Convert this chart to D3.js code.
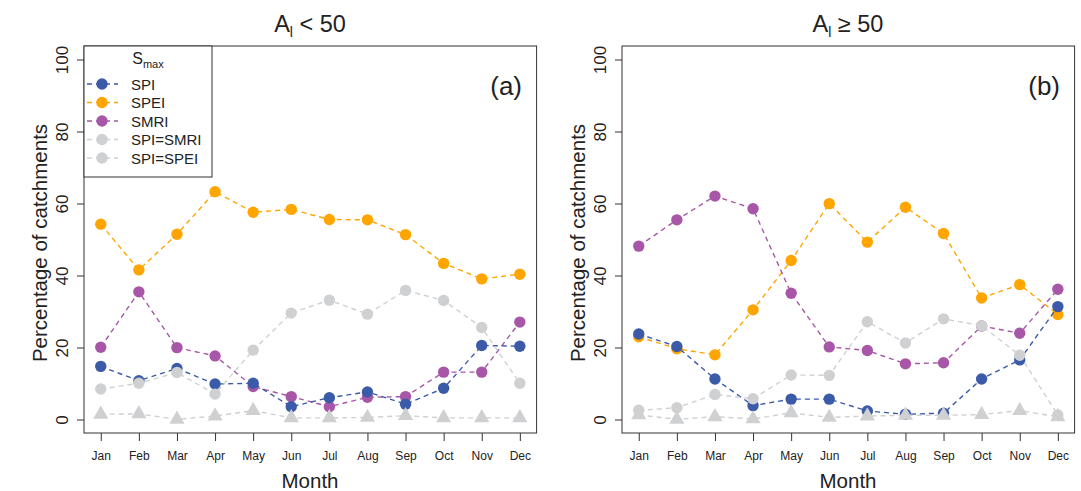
<!DOCTYPE html>
<html>
<head>
<meta charset="utf-8">
<script src="https://cdn.jsdelivr.net/npm/d3@7"></script>
<style>
  body { margin: 0; background: #fff; }
  svg { display: block; font-family: "Liberation Sans", Arial, sans-serif; }
</style>
</head>
<body>
<div id="chart"></div>
<script>
// months and series
var months = ["Jan","Feb","Mar","Apr","May","Jun","Jul","Aug","Sep","Oct","Nov","Dec"];
var yTicks = [0, 20, 40, 60, 80, 100];

// panel (a): A_l < 50
var spiA      = [14.9, 10.9, 14.3, 10.0, 10.2, 3.7, 6.2, 7.8, 4.4, 8.8, 20.7, 20.5];
var speiA     = [54.4, 41.7, 51.6, 63.4, 57.7, 58.5, 55.7, 55.6, 51.5, 43.5, 39.2, 40.5];
var smriA     = [20.2, 35.6, 20.1, 17.8, 9.3, 6.5, 3.7, 6.3, 6.5, 13.3, 13.3, 27.2];
var spiSmriA  = [8.6, 10.2, 13.2, 7.2, 19.4, 29.7, 33.3, 29.4, 36.0, 33.2, 25.7, 10.2];
var spiSpeiA  = [1.6, 1.7, 0.2, 1.1, 2.6, 0.6, 0.6, 0.7, 1.2, 0.6, 0.6, 0.6];

// panel (b): A_l >= 50
var spiB      = [23.9, 20.4, 11.4, 4.0, 5.8, 5.8, 2.5, 1.6, 1.9, 11.4, 16.7, 31.5];
var speiB     = [23.1, 19.8, 18.1, 30.6, 44.3, 60.1, 49.4, 59.1, 51.8, 33.9, 37.6, 29.3];
var smriB     = [48.3, 55.6, 62.2, 58.7, 35.2, 20.3, 19.3, 15.6, 15.9, 26.1, 24.1, 36.3];
var spiSmriB  = [2.7, 3.4, 7.1, 5.9, 12.5, 12.4, 27.3, 21.4, 28.1, 26.2, 18.0, 1.4];
var spiSpeiB  = [1.4, 0.2, 0.9, 0.3, 2.0, 0.7, 1.1, 1.3, 1.3, 1.5, 2.6, 0.9];

var colSPI = "#3b5ba8", colSPEI = "#ffa500", colSMRI = "#a857a8", colGrey = "#cfd0d2";

var W = 1081, H = 491;
var svg = d3.select("#chart").append("svg")
    .attr("width", W)
    .attr("height", H);

function panel(x0, op, tag, s) {
  // R-style 4% axis extension
  var x = d3.scaleLinear().domain([0.56, 12.44]).range([x0, x0 + 452.6]);
  var y = d3.scaleLinear().domain([-4, 104]).range([434.4, 45.6]);
  var g = svg.append("g");

  // x axis
  var xa = g.append("g")
      .attr("transform", "translate(0,433)")
      .call(d3.axisBottom(x)
        .tickValues(d3.range(1, 13))
        .tickFormat(function(d) { return months[d - 1]; })
        .tickSize(8)
        .tickPadding(10));
  xa.select(".domain").remove();
  xa.selectAll("line").attr("stroke", "#333");
  xa.selectAll("text").attr("font-size", 12).attr("fill", "#222")
      .attr("font-family", "Liberation Sans, Arial, sans-serif");

  // y axis
  var ya = g.append("g")
      .attr("transform", "translate(" + x0 + ",0)")
      .call(d3.axisLeft(y).tickValues(yTicks).tickSize(7).tickFormat(d3.format("d")));
  ya.select(".domain").remove();
  ya.selectAll("line").attr("stroke", "#333");
  ya.selectAll("text")
      .attr("font-size", 17).attr("fill", "#222")
      .attr("font-family", "Liberation Sans, Arial, sans-serif")
      .attr("text-anchor", "middle")
      .attr("dy", null)
      .attr("x", null)
      .attr("transform", function(d) { return "translate(" + (-16) + "," + y(d) + ")rotate(-90)"; })
      .attr("y", 0);
  ya.selectAll(".tick").attr("transform", null);
  ya.selectAll(".tick line").attr("transform", function(d) { return "translate(0," + y(d) + ")"; });

  // axis titles
  g.append("text")
      .attr("transform", "translate(" + (x0 - 37) + ",243)rotate(-90)")
      .attr("text-anchor", "middle")
      .attr("font-size", 20.5).attr("fill", "#222")
      .text("Percentage of catchments");
  g.append("text")
      .attr("x", x0 + 226).attr("y", 488)
      .attr("text-anchor", "middle")
      .attr("font-size", 20.5).attr("fill", "#222")
      .text("Month");

  // panel title
  var t = g.append("text")
      .attr("x", x0 + 226).attr("y", 32)
      .attr("text-anchor", "middle")
      .attr("font-size", 23.5).attr("fill", "#222");
  t.append("tspan").text("A");
  t.append("tspan").attr("font-size", 14).attr("dy", 5).text("l");
  t.append("tspan").attr("dy", -5).text(" " + op + " 50");

  // series: lines + points
  var line = d3.line()
      .x(function(d, i) { return x(i + 1); })
      .y(function(d) { return y(d); });

  s.forEach(function(ser) {
    g.append("path")
        .datum(ser.values)
        .attr("d", line)
        .attr("fill", "none")
        .attr("stroke", ser.color)
        .attr("stroke-width", 1.4)
        .attr("stroke-dasharray", "5,4");
    if (ser.shape === "tri") {
      g.selectAll(null)
          .data(ser.values)
          .enter()
          .append("path")
          .attr("d", d3.symbol().type(d3.symbolTriangle).size(100))
          .attr("transform", function(d, i) { return "translate(" + x(i + 1) + "," + y(d) + ")"; })
          .attr("fill", ser.color);
    } else {
      g.selectAll(null)
          .data(ser.values)
          .enter()
          .append("circle")
          .attr("cx", function(d, i) { return x(i + 1); })
          .attr("cy", function(d) { return y(d); })
          .attr("r", 5.7)
          .attr("fill", ser.color);
    }
  });

  // box
  g.append("rect")
      .attr("x", x0).attr("y", 46)
      .attr("width", 452.6).attr("height", 387)
      .attr("fill", "none")
      .attr("stroke", "#333");

  // panel tag
  g.append("text")
      .attr("x", x0 + 438).attr("y", 95)
      .attr("text-anchor", "end")
      .attr("font-size", 26).attr("fill", "#222")
      .text(tag);

  return g;
}

panel(84, "<", "(a)", [
  {values: speiA, color: colSPEI},
  {values: smriA, color: colSMRI},
  {values: spiA, color: colSPI},
  {values: spiSpeiA, color: colGrey, shape: "tri"},
  {values: spiSmriA, color: colGrey}
]);

panel(622, "\u2265", "(b)", [
  {values: speiB, color: colSPEI},
  {values: smriB, color: colSMRI},
  {values: spiB, color: colSPI},
  {values: spiSpeiB, color: colGrey, shape: "tri"},
  {values: spiSmriB, color: colGrey}
]);

// legend
var legNames = ["SPI", "SPEI", "SMRI", "SPI=SMRI", "SPI=SPEI"];
var legCols = [colSPI, colSPEI, colSMRI, colGrey, colGrey];

var leg = svg.append("g");
leg.append("rect")
    .attr("x", 84).attr("y", 46)
    .attr("width", 128).attr("height", 131)
    .attr("fill", "#fff")
    .attr("stroke", "#333");
var lt = leg.append("text")
    .attr("x", 148).attr("y", 64)
    .attr("text-anchor", "middle")
    .attr("font-size", 16).attr("fill", "#222");
lt.append("tspan").text("S");
lt.append("tspan").attr("font-size", 11).attr("dy", 4).text("max");

var ly = d3.scalePoint().domain(legNames).range([84, 158]);
legNames.forEach(function(n, i) {
  leg.append("line")
      .attr("x1", 87).attr("x2", 118)
      .attr("y1", ly(n)).attr("y2", ly(n))
      .attr("stroke", legCols[i])
      .attr("stroke-width", 1.4)
      .attr("stroke-dasharray", "5,4");
  leg.append("circle")
      .attr("cx", 102).attr("cy", ly(n))
      .attr("r", 5.7)
      .attr("fill", legCols[i]);
  leg.append("text")
      .attr("x", 131).attr("y", ly(n) + 5.5)
      .attr("font-size", 15).attr("fill", "#222")
      .text(n);
});
</script>
</body>
</html>
